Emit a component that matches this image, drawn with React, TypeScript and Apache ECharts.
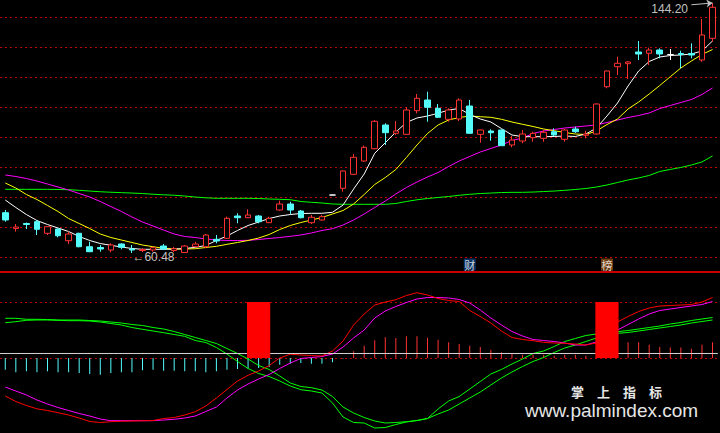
import React, { useEffect, useRef } from "react";
import * as echarts from "echarts";

// ---------- data ----------
const CATEGORIES = Array.from({ length: 68 }, (_, i) => String(i + 1));

const OPEN = [
  73.97, 68.68, 70.35, 70.95, 67.07, 68.51, 64.59, 67.07, 62.58, 62.31,
  61.47, 63.48, 61.81, 61.31, 61.47, 62.81, 61.31, 60.65, 62.58, 62.58,
  65.06, 65.39, 72.86, 72.29, 72.86, 70.62, 74.87, 76.88, 74.54, 70.62,
  71.52, 79.89, 82.14, 86.83, 91.28, 95.4, 103.34, 100.56, 100.22, 108.13,
  111.71, 108.93, 105.25, 105.35, 109.7, 100.22, 101.33, 101.66, 96.64, 97.98,
  99.08, 98.88, 101.09, 98.55, 102.0, 99.89, 100.32, 116.16, 122.86, 123.87,
  127.79, 127.35, 128.45, 126.95, 127.28, 127.28, 125.11, 132.37,
];
const CLOSE = [
  71.52, 69.18, 70.01, 68.41, 69.28, 66.26, 66.83, 62.58, 60.91, 61.81,
  63.15, 62.38, 61.47, 61.64, 62.25, 61.81, 61.91, 62.81, 63.48, 66.5,
  64.49, 72.09, 72.29, 73.2, 70.95, 72.09, 76.88, 74.87, 72.29, 72.43,
  72.63, 79.89, 87.93, 92.52, 95.87, 104.58, 100.76, 101.33, 108.36, 112.28,
  109.27, 105.92, 108.36, 111.71, 100.56, 101.66, 100.76, 96.41, 98.31, 100.32,
  100.56, 100.89, 99.99, 101.66, 101.09, 100.32, 110.37, 121.42, 124.0, 124.44,
  127.12, 128.45, 127.12, 126.95, 126.95, 126.78, 133.48, 142.76,
];
const LOW = [
  70.95, 67.6, 68.51, 66.5, 66.5, 65.73, 63.48, 62.38, 60.75, 60.91,
  60.7, 61.71, 60.48, 60.81, 60.91, 61.47, 60.81, 60.6, 62.48, 62.04,
  63.72, 65.33, 70.42, 72.19, 70.42, 70.52, 74.7, 73.43, 72.09, 70.18,
  71.35, 79.85, 81.0, 86.6, 91.0, 95.2, 96.64, 99.99, 100.15, 107.26,
  104.44, 105.68, 104.44, 104.68, 100.49, 97.41, 98.08, 96.3, 95.87, 97.21,
  97.74, 97.74, 99.65, 97.74, 100.66, 98.88, 100.15, 115.63, 120.08, 118.74,
  125.11, 123.43, 125.68, 125.11, 122.33, 125.68, 124.54, 131.23,
];
const HIGH = [
  74.87, 70.18, 70.68, 71.52, 69.51, 68.68, 67.6, 67.27, 64.25, 63.15,
  63.72, 63.72, 63.15, 62.04, 62.58, 63.48, 62.48, 63.15, 64.25, 66.83,
  66.5, 72.63, 73.77, 75.11, 73.2, 72.63, 77.99, 77.65, 74.87, 73.2,
  73.2, 79.95, 88.1, 93.63, 96.41, 105.01, 103.91, 104.68, 109.27, 113.72,
  114.49, 110.37, 108.93, 112.28, 111.71, 101.83, 101.9, 101.83, 99.65, 101.66,
  101.09, 101.66, 102.23, 102.0, 102.77, 101.43, 110.54, 121.59, 126.21, 124.77,
  131.47, 129.23, 129.02, 128.79, 128.22, 130.7, 138.84, 144.2,
];

const MA_WHITE = [
  78.22, 75.71, 73.36, 71.35, 70.01, 68.84, 67.67, 66.0, 64.66, 63.65,
  63.05, 62.48, 61.98, 61.71, 61.71, 61.71, 61.74, 61.98, 62.38, 62.98,
  64.66, 66.16, 68.01, 69.68, 70.85, 72.02, 72.86, 73.36, 73.7, 73.77,
  73.77, 74.1, 76.55, 81.9, 86.93, 93.86, 97.41, 100.99, 104.17, 105.68,
  106.35, 107.26, 108.36, 108.86, 106.85, 105.35, 104.34, 102.16, 99.99, 99.42,
  99.42, 99.42, 99.49, 99.66, 99.49, 100.32, 102.33, 106.35, 110.71, 116.4,
  121.42, 124.6, 126.11, 126.61, 126.78, 127.12, 128.12, 131.47,
];
const MA_YELLOW = [
  83.91, 82.24, 80.06, 78.39, 76.38, 74.37, 72.02, 70.35, 68.67, 66.83,
  65.66, 64.82, 63.99, 63.15, 62.58, 62.04, 61.81, 61.81, 61.91, 62.31,
  62.71, 63.38, 63.99, 64.66, 65.49, 66.67, 68.34, 69.68, 70.68, 71.52,
  72.36, 73.53, 74.7, 76.88, 80.06, 83.41, 85.75, 88.43, 92.45, 96.64,
  100.49, 103.34, 105.01, 105.85, 106.35, 106.11, 105.91, 105.25, 104.34, 103.57,
  102.84, 102.0, 101.43, 100.82, 100.32, 100.15, 101.33, 103.5, 105.35, 108.7,
  111.04, 113.72, 116.57, 119.51, 122.43, 124.77, 126.95, 128.62,
];
const MA_MAGENTA = [
  86.59, 86.09, 85.42, 84.58, 83.58, 82.57, 81.57, 80.39, 79.22, 77.72,
  76.04, 74.37, 72.53, 70.85, 69.51, 68.17, 66.83, 66.0, 65.66, 65.16,
  64.82, 64.66, 64.66, 64.72, 64.99, 65.33, 65.66, 66.06, 66.5, 67.17,
  68.01, 68.61, 69.85, 71.52, 73.53, 75.71, 77.89, 80.23, 82.41, 84.25,
  85.92, 87.43, 89.44, 91.28, 92.79, 94.3, 95.47, 96.64, 98.14, 98.98,
  100.49, 101.33, 101.83, 102.33, 102.67, 103.0, 103.34, 104.17, 105.01, 105.85,
  106.52, 107.36, 108.86, 109.87, 110.87, 111.88, 113.55, 115.73,
];
const MA_GREEN = [
  81.8, 81.8, 81.8, 81.8, 81.8, 81.74, 81.67, 81.47, 81.22, 80.99,
  80.82, 80.69, 80.55, 80.39, 80.15, 79.95, 79.82, 79.55, 79.22, 78.95,
  78.79, 78.79, 78.79, 78.79, 78.72, 78.55, 78.45, 78.32, 77.72, 77.45,
  77.22, 76.88, 76.78, 76.78, 76.78, 76.78, 76.78, 77.05, 77.72, 78.29,
  78.72, 79.06, 79.39, 79.8, 80.13, 80.39, 80.55, 80.72, 80.79, 80.79,
  80.89, 81.06, 81.22, 81.46, 81.74, 82.07, 82.57, 83.24, 84.09, 84.93,
  85.6, 86.44, 87.77, 88.45, 89.12, 89.95, 90.96, 92.96,
];

// lower indicator panel
const OSC_RED = [
  -38, -43.5, -47.5, -50.8, -52.5, -54.7, -57, -60, -63.5, -64.5,
  -63.7, -63.3, -63, -62.8, -62.5, -60.5, -59.5, -57, -53.7, -48,
  -40, -31.5, -23, -17.3, -13, -7.5, 0, 3.8, 3, 2.5,
  2, 7, 17, 33, 44, 53, 56, 58.3, 62.5, 65.3,
  63, 59.5, 57.5, 56.5, 47.5, 41.5, 35, 27, 20.5, 18.5,
  17.3, 15.7, 15, 14.7, 14, 13, 15, 25, 36, 41.5,
  46.5, 50, 52, 52.5, 53, 53.5, 56, 60.5,
];
const OSC_MAGENTA = [
  -29, -33, -37, -42, -46, -49.5, -52.5, -55.5, -58, -61,
  -62.7, -62.7, -62.7, -62.7, -62.7, -62, -61.3, -60, -58, -53.5,
  -49, -40, -32, -26, -21, -16.5, -10.5, -5, -0.5, 0.5,
  1.5, 4, 11, 20, 28, 40, 47, 51.5, 55.5, 59,
  60.5, 60.5, 60, 58.5, 55, 48, 40, 33, 26.5, 22,
  18.5, 17.5, 16.5, 15, 13, 13, 16, 22, 28, 33.5,
  39, 44, 47.5, 49, 50.5, 52, 53.5, 56.5,
];
const TREND_A = [
  39.7, 39.7, 38.7, 38.7, 38.5, 38, 38, 38, 37.5, 37,
  36, 35, 33.5, 32.5, 30.5, 29, 26.5, 23.5, 20.5, 17.5,
  14.5, 9.5, 4.5, -1, -7.5, -11.5, -18, -25, -28.5, -29.7,
  -32, -38.5, -49, -55, -59.5, -63, -65, -64.5, -63.7, -62.5,
  -60.5, -51, -43, -38.5, -31, -23.5, -16, -11.5, -6, -1,
  4.5, 7, 11.5, 16.5, 19.5, 22.5, 24, 25.5, 26.3, 27.5,
  29, 30.5, 32, 34, 35.5, 37.5, 39, 40.5,
];
const TREND_B = [
  35.3, 36.3, 37.7, 38, 38, 37.7, 37.3, 37.3, 37, 36,
  34.5, 33, 30.5, 28.7, 27, 25.3, 23.5, 21.7, 17.5, 15.5,
  10.5, 4, -3.5, -10.5, -15.5, -18.5, -23, -28, -31.7, -33,
  -35, -45, -59, -64.5, -65, -70, -69.5, -66.5, -64, -62.5,
  -60.5, -56, -52, -46, -40, -34, -27, -20, -14, -8.5,
  -3.5, 0.5, 5.5, 10, 13, 16.5, 20, 22, 24.7, 25.5,
  27, 28.5, 30, 31.5, 33, 35, 36.5, 38,
];
const MACD = [
  -11.7, -14.3, -13.3, -14.3, -13.3, -14.3, -14.3, -15, -16, -16.7,
  -15, -14.3, -14.3, -12.3, -11.7, -12.7, -12.7, -13.3, -13.3, -14.3,
  -13.3, -11.7, -11, -10.7, -10, -9, -6.7, -5.7, -5, -5.7,
  -5.7, -4.3, -0.5, 6.7, 12.3, 17.7, 20.7, 20, 21.7, 21.7,
  20.3, 18.3, 15.7, 14, 12.3, 11, 8.3, 5.7, 5, 3.3,
  3.3, 3.3, 2.3, 3.3, 3.3, 2.3, 3, 6, 10, 15.7,
  15.7, 13.3, 11, 10.6, 10.6, 9.3, 13.3, 15.7,
];
const SIGNAL_BARS = [24, 57];
const LEVEL_UPPER = 56;
const LEVEL_LOWER = 0;
const LEVEL_ZERO = 5;

const MARKER_INDEX = [44, 57];
const MARKER_TEXT = ["财", "榜"];
const MARKER_LEVEL = 56.62;

const PRICE_MIN = 54.11;
const PRICE_MAX = 145.2;
const LOWER_MIN = -75;
const LOWER_MAX = 86;

// ---------- styles ----------
const UP = "#ff3232";
const DOWN = "#54fcfc";
const DOT_RED = "#c00000";
const TXT = "#c0c0c0";

export default function App() {
  const ref = useRef<HTMLDivElement | null>(null);

  useEffect(() => {
    if (!ref.current) return;
    const chart = echarts.init(ref.current, null, { renderer: "svg", width: 720, height: 433 });

    const hiIdx = HIGH.indexOf(Math.max(...HIGH));
    const loIdx = LOW.indexOf(Math.min(...LOW));

    const candleData = OPEN.map((o, i) => {
      const item: any = { value: [o, CLOSE[i], LOW[i], HIGH[i]] };
      if (o === CLOSE[i]) {
        item.itemStyle = { color: "#ffffff", color0: "#ffffff", borderColor: "#ffffff", borderColor0: "#ffffff" };
      }
      return item;
    });

    const markerColors = ["#0c3d7a", "#8a4a12"];

    const lineSeries = (data: number[], color: string, x: number, z = 2) => ({
      type: "line",
      xAxisIndex: x,
      yAxisIndex: x,
      data,
      symbol: "none",
      z,
      lineStyle: { color, width: 1 },
      silent: true,
    });

    const dotted = { show: true, lineStyle: { color: DOT_RED, type: [2, 3], width: 1 } };
    const hiddenAxis = { axisLine: { show: false }, axisTick: { show: false }, axisLabel: { show: false } };

    const option: any = {
      animation: false,
      backgroundColor: "#000000",
      grid: [
        { left: -3, top: 0, width: 720.8, height: 272 },
        { left: -3, top: 272, width: 720.8, height: 161 },
        { left: 0, right: 0, top: 17, height: 255 },
        { left: 0, right: 0, top: 302, height: 56 },
      ],
      xAxis: [
        { type: "category", gridIndex: 0, data: CATEGORIES, boundaryGap: true, show: false },
        { type: "category", gridIndex: 1, data: CATEGORIES, boundaryGap: true, show: false },
        {
          type: "value", gridIndex: 2, min: 0, max: 1,
          axisLine: { show: true, onZero: false, lineStyle: { color: "#c80000", width: 2 } },
          axisTick: { show: false }, axisLabel: { show: false }, splitLine: { show: false },
        },
        { type: "value", gridIndex: 3, min: 0, max: 1, ...hiddenAxis, splitLine: { show: false } },
      ],
      yAxis: [
        { type: "value", gridIndex: 0, min: PRICE_MIN, max: PRICE_MAX, show: false },
        { type: "value", gridIndex: 1, min: LOWER_MIN, max: LOWER_MAX, show: false },
        { type: "value", gridIndex: 2, inverse: true, min: 0, max: 255, interval: 30, ...hiddenAxis, splitLine: dotted },
        { type: "value", gridIndex: 3, min: 0, max: 1, interval: 1, ...hiddenAxis, splitLine: dotted },
      ],
      series: [
        lineSeries(MA_GREEN, "#00ff00", 0),
        lineSeries(MA_MAGENTA, "#ff00ff", 0),
        lineSeries(MA_YELLOW, "#ffff00", 0),
        lineSeries(MA_WHITE, "#ffffff", 0),
        {
          type: "candlestick",
          xAxisIndex: 0,
          yAxisIndex: 0,
          z: 3,
          barWidth: 6,
          data: candleData,
          itemStyle: { color: "#000000", color0: DOWN, borderColor: UP, borderColor0: DOWN, borderWidth: 1 },
          markPoint: {
            symbol: "circle",
            symbolSize: 1,
            silent: true,
            itemStyle: { color: "rgba(0,0,0,0)" },
            data: [
              {
                coord: [CATEGORIES[hiIdx], HIGH[hiIdx]],
                label: {
                  show: true, position: "left", distance: 24, offset: [0, 6],
                  formatter: HIGH[hiIdx].toFixed(2), color: TXT, fontSize: 12, fontFamily: "Liberation Sans",
                },
              },
              {
                coord: [CATEGORIES[loIdx], LOW[loIdx]],
                label: {
                  show: true, position: "right", distance: 0, offset: [0, 4],
                  formatter: "←" + LOW[loIdx].toFixed(2), color: TXT, fontSize: 12, fontFamily: "Liberation Sans",
                },
              },
            ],
          },
          markLine: {
            silent: true,
            symbol: ["none", "arrow"],
            symbolSize: 6,
            label: { show: false },
            lineStyle: { color: TXT, width: 1, type: "solid" },
            data: [[
              { coord: [CATEGORIES[hiIdx - 2], HIGH[hiIdx] - 0.6] },
              { coord: [CATEGORIES[hiIdx], HIGH[hiIdx]] },
            ]],
          },
        },
        {
          type: "scatter",
          xAxisIndex: 0,
          yAxisIndex: 0,
          z: 6,
          symbol: "rect",
          symbolSize: 12,
          silent: true,
          data: MARKER_INDEX.map((idx, j) => ({
            value: [idx, MARKER_LEVEL],
            itemStyle: { color: markerColors[j] },
            label: { formatter: MARKER_TEXT[j] },
          })),
          label: { show: true, position: "inside", color: "#ffffff", fontSize: 11, fontFamily: "Noto Sans CJK SC" },
        },
        {
          type: "bar",
          xAxisIndex: 1,
          yAxisIndex: 1,
          barWidth: 1,
          z: 1,
          silent: true,
          data: MACD,
          itemStyle: { color: (p: any) => (p.value >= 0 ? UP : DOWN) },
          markLine: {
            silent: true,
            symbol: "none",
            label: { show: false },
            data: [
              { yAxis: LEVEL_ZERO, lineStyle: { color: "#d0d0d0", type: "solid", width: 1.2 } },
            ],
          },
        },
        lineSeries(TREND_B, "#00ff00", 1),
        lineSeries(TREND_A, "#00ff00", 1),
        lineSeries(OSC_MAGENTA, "#ff00ff", 1),
        lineSeries(OSC_RED, "#ff0000", 1),
        {
          type: "custom",
          xAxisIndex: 1,
          yAxisIndex: 1,
          z: 10,
          silent: true,
          data: SIGNAL_BARS.map((i) => [i, LEVEL_UPPER, LEVEL_LOWER]),
          encode: { x: 0, y: [1, 2] },
          renderItem: (params: any, api: any) => {
            const top = api.coord([api.value(0), api.value(1)]);
            const bottom = api.coord([api.value(0), api.value(2)]);
            const w = api.size([1, 0])[0] * 2.2;
            return {
              type: "rect",
              shape: { x: top[0] - w / 2, y: top[1], width: w, height: bottom[1] - top[1] },
              style: { fill: "#ff0000" },
            };
          },
        },
      ],
      graphic: [
        {
          type: "text", left: 571, top: 385, silent: true,
          style: { text: "掌　上　指　标", fill: "#e6e6e6", font: 'bold 13px "Noto Sans CJK SC"', lineHeight: 13 },
        },
        {
          type: "text", left: 525, top: 401, silent: true,
          style: { text: "www.palmindex.com", fill: "#e6e6e6", font: '19px "Liberation Sans"', lineHeight: 19 },
        },
      ],
    };

    chart.setOption(option);
    return () => chart.dispose();
  }, []);

  return (
    <div
      ref={ref}
      style={{ position: "fixed", left: 0, top: 0, width: 720, height: 433, background: "#000" }}
    />
  );
}
